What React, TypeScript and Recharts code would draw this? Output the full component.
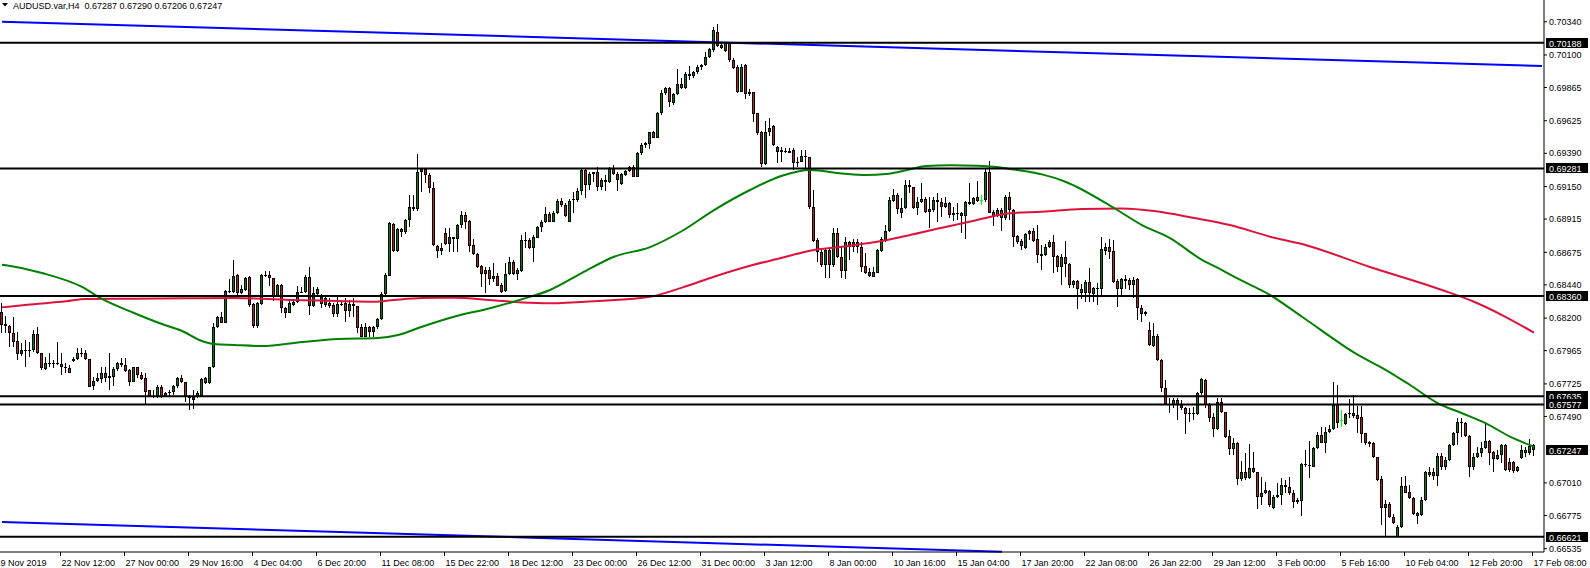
import { Bar, ComposedChart, Line, ReferenceLine, XAxis, YAxis } from "recharts";

// prices are kept in points (1 = 0.00001)
const ohlc: [number, number, number, number][] = [
  [68247,68307,68090,68150],[68158,68215,68090,68143],[68143,68150,67994,68090],[68090,68211,67994,68030],
  [68035,68102,67898,67939],[67939,68018,67927,67970],[67970,68042,67850,67968],[67968,68030,67922,67970],
  [67970,68114,67958,68083],[68083,68134,67941,67946],[67946,67946,67826,67837],[67835,67922,67826,67874],
  [67874,67946,67850,67872],[67872,67898,67837,67874],[67874,68030,67862,67870],[67869,67946,67789,67845],
  [67845,67874,67801,67837],[67837,67862,67801,67806],[67890,67917,67886,67907],[67903,67982,67898,67946],
  [67946,67987,67922,67944],[67946,67970,67898,67903],[67903,67903,67700,67705],[67710,67777,67681,67746],
  [67746,67801,67741,67765],[67758,67850,67729,67801],[67801,67850,67741,67770],[67770,67946,67681,67782],
  [67777,67850,67710,67833],[67833,67886,67821,67874],[67862,67910,67850,67878],[67862,67910,67813,67821],
  [67826,67831,67712,67741],[67741,67850,67736,67845],[67845,67850,67765,67792],[67792,67813,67753,67763],
  [67770,67801,67580,67669],[67681,67681,67633,67638],[67638,67681,67621,67636],[67633,67717,67621,67700],
  [67700,67717,67621,67633],[67633,67669,67633,67662],[67662,67681,67638,67669],[67669,67717,67645,67712],
  [67712,67777,67693,67770],[67770,67787,67729,67736],[67736,67736,67597,67633],[67638,67645,67537,67621],
  [67633,67681,67541,67609],[67662,67676,67621,67633],[67633,67765,67633,67758],[67765,67773,67722,67729],
  [67729,67850,67722,67845],[67845,68162,67840,68134],[68134,68218,68126,68211],[68211,68247,68162,68167],
  [68167,68403,68167,68396],[68391,68480,68384,68398],[68391,68620,68384,68504],[68511,68516,68367,68379],
  [68379,68439,68372,68408],[68403,68499,68396,68487],[68495,68504,68283,68295],[68302,68307,68126,68143],
  [68143,68319,68126,68312],[68302,68516,68295,68511],[68511,68542,68494,68509],[68511,68542,68432,68487],
  [68487,68492,68326,68362],[68362,68446,68355,68439],[68439,68446,68234,68271],[68271,68283,68198,68239],
  [68239,68335,68234,68307],[68295,68338,68290,68314],[68314,68434,68307,68386],[68386,68427,68379,68391],
  [68391,68511,68379,68499],[68499,68567,68222,68290],[68290,68427,68283,68379],[68374,68427,68360,68410],
  [68355,68374,68271,68299],[68295,68360,68283,68343],[68307,68343,68271,68290],[68295,68307,68210,68227],
  [68227,68355,68210,68299],[68304,68319,68290,68302],[68309,68343,68169,68254],[68254,68331,68210,68302],
  [68302,68343,68210,68290],[68290,68290,68090,68126],[68133,68157,68061,68066],[68066,68162,68061,68133],
  [68133,68145,68066,68102],[68102,68145,68066,68138],[68133,68203,68121,68193],[68193,68391,68186,68372],
  [68372,68523,68367,68511],[68506,68891,68504,68884],[68879,68889,68680,68687],[68687,68848,68680,68843],
  [68843,68848,68788,68819],[68819,68916,68807,68908],[68908,69089,68855,69000],[69000,69089,68973,68985],
  [68985,69385,68976,69253],[69253,69281,69108,69274],[69274,69281,69178,69233],[69233,69245,69101,69137],
  [69137,69186,68721,68728],[68723,68728,68631,68684],[68684,68740,68656,68709],[68812,68848,68728,68735],
  [68735,68848,68680,68783],[68783,68788,68680,68771],[68771,68879,68680,68872],[68872,68973,68848,68944],
  [68944,68969,68841,68896],[68904,68908,68680,68721],[68725,68771,68656,68663],[68663,68668,68559,68571],
  [68576,68583,68427,68516],[68516,68571,68379,68547],[68547,68571,68439,68480],[68480,68600,68463,68504],
  [68504,68528,68434,68434],[68439,68451,68379,68391],[68396,68595,68391,68516],[68516,68639,68511,68603],
  [68603,68619,68511,68518],[68518,68559,68475,68547],[68539,68799,68534,68763],[68763,68823,68703,68758],
  [68763,68780,68698,68703],[68703,68799,68607,68787],[68780,68864,68775,68855],[68855,68908,68823,68891],
  [68891,69000,68884,68949],[68949,68963,68891,68896],[68896,68975,68891,68956],[68956,69059,68949,69045],
  [69045,69064,69004,69016],[69016,69028,68932,68939],[68896,69059,68891,69047],[69052,69112,68956,69059],
  [69052,69136,69040,69117],[69117,69276,69088,69269],[69269,69281,69064,69160],[69160,69252,69124,69237],
  [69237,69257,69185,69252],[69252,69293,69120,69148],[69148,69209,69124,69197],[69197,69233,69120,69180],
  [69180,69293,69173,69276],[69276,69305,69233,69237],[69237,69257,69120,69197],[69168,69245,69160,69237],
  [69233,69269,69228,69262],[69262,69300,69257,69293],[69293,69305,69216,69221],[69221,69401,69216,69389],
  [69389,69461,69377,69449],[69449,69473,69425,69461],[69457,69546,69420,69541],[69546,69550,69497,69502],
  [69502,69690,69497,69678],[69678,69846,69666,69822],[69822,69871,69810,69863],[69863,69871,69726,69757],
  [69750,69822,69738,69818],[69818,69996,69810,69890],[69890,69936,69854,69858],[69858,69974,69854,69962],
  [69950,70020,69919,69962],[69950,69984,69936,69979],[69974,70027,69960,70015],[70015,70032,69991,70027],
  [70027,70118,70022,70082],[70082,70147,70075,70140],[70135,70299,70123,70280],[70268,70323,70159,70167],
  [70171,70183,70142,70152],[70128,70195,70118,70183],[70183,70188,70051,70063],[70063,70080,69998,70003],
  [70015,70027,69822,69834],[69834,70032,69830,70015],[70027,70032,69779,69815],[69815,69854,69803,69830],
  [69830,69834,69618,69673],[69678,69683,69521,69538],[69546,69550,69293,69312],[69312,69623,69305,69546],
  [69546,69647,69517,69574],[69586,69594,69442,69449],[69396,69442,69322,69432],[69414,69438,69330,69402],
  [69402,69426,69395,69410],[69410,69426,69390,69395],[69414,69426,69270,69323],[69323,69366,69294,69328],
  [69330,69414,69325,69373],[69371,69414,69282,69361],[69361,69366,68986,69000],[69000,69125,68752,68759],
  [68764,68776,68608,68680],[68680,68692,68572,68584],[68584,68704,68492,68692],[68692,68716,68492,68584],
  [68584,68848,68572,68812],[68812,68848,68632,68639],[68639,68721,68487,68543],[68543,68783,68480,68752],
  [68752,68759,68620,68711],[68711,68769,68680,68750],[68750,68769,68668,68716],[68716,68752,68535,68572],
  [68576,68668,68519,68528],[68535,68560,68499,68504],[68499,68572,68495,68535],[68528,68697,68523,68692],
  [68687,68783,68680,68769],[68764,68872,68752,68832],[68832,69072,68824,69053],[69046,69130,69041,69089],
  [69089,69106,68949,68986],[68957,69065,68921,68993],[68993,69197,68986,69161],[69161,69197,69106,69144],
  [69144,69149,68986,68993],[68993,69077,68945,69036],[69036,69173,69029,69060],[69060,69077,68957,68969],
  [68969,69077,68848,68988],[68981,69077,68969,69053],[69053,69101,68897,69036],[69036,69065,68933,69000],
  [69000,69077,68993,69034],[69034,69041,68921,68945],[68945,69005,68904,68961],[68961,69029,68909,68955],
  [68957,68969,68817,68940],[68940,69048,68769,69041],[69041,69173,69017,69024],[69024,69077,69017,69065],
  [69072,69190,69041,69048],[69053,69089,69017,69053],[69053,69282,69041,69258],[69258,69337,68957,68961],
  [68969,68981,68865,68933],[68940,68993,68928,68981],[68981,68993,68832,68921],[68921,69089,68909,69077],
  [69077,69113,68909,68981],[68981,68986,68716,68788],[68793,68800,68735,68752],[68759,68769,68692,68721],
  [68704,68817,68697,68807],[68807,68836,68764,68832],[68832,68848,68752,68759],[68769,68872,68600,68656],
  [68663,68728,68547,68651],[68655,68732,68651,68716],[68716,68764,68704,68747],[68747,68800,68523,68643],
  [68651,68655,68535,68566],[68566,68660,68439,68639],[68639,68756,68499,68588],[68588,68595,68420,68439],
  [68439,68475,68415,68468],[68468,68475,68265,68407],[68383,68444,68338,68407],[68379,68475,68314,68458],
  [68463,68564,68318,68379],[68371,68427,68318,68415],[68407,68451,68294,68420],[68410,68783,68367,68699],
  [68687,68740,68655,68711],[68711,68771,68626,68679],[68684,68764,68451,68463],[68468,68482,68282,68407],
  [68407,68487,68367,68482],[68470,68511,68407,68482],[68475,68492,68403,68439],[68439,68499,68347,68475],
  [68482,68487,68186,68270],[68270,68294,68169,68227],[68227,68251,68217,68241],[68111,68174,68001,68005],
  [68001,68162,67993,68070],[68070,68085,67890,67897],[67897,67904,67669,67693],[67693,67753,67572,67577],
  [67577,67620,67512,67580],[67572,67620,67548,67608],[67608,67625,67464,67572],[67572,67608,67536,67548],
  [67553,67560,67360,67505],[67505,67548,67452,67512],[67512,67560,67464,67510],[67505,67669,67500,67657],
  [67657,67770,67644,67760],[67753,67760,67548,67572],[67572,67584,67452,67481],[67488,67512,67339,67399],
  [67399,67625,67392,67591],[67591,67620,67512,67519],[67519,67524,67336,67344],[67348,67392,67211,67254],
  [67254,67332,67211,67295],[67295,67307,66995,67035],[67035,67168,67023,67086],[67086,67223,67031,67043],
  [67043,67288,67038,67115],[67115,67230,67079,67086],[67086,67091,66821,66910],[66910,67055,66850,66934],
  [66934,67019,66927,66959],[66954,66959,66838,66850],[66826,66922,66821,66910],[66910,67007,66903,66922],
  [66922,67043,66850,66995],[66995,67031,66934,66978],[66978,67055,66922,66934],[66934,66959,66826,66874],
  [66869,66898,66855,66886],[66882,67151,66773,67144],[67144,67247,67127,67139],[67139,67312,67043,67141],
  [67127,67267,67122,67259],[67259,67380,67252,67356],[67356,67411,67295,67300],[67300,67416,67223,67375],
  [67375,67428,67368,67397],[67397,67736,67392,67572],[67572,67717,67404,67440],[67464,67536,67411,67464],
  [67435,67517,67428,67507],[67507,67613,67476,67517],[67517,67644,67476,67493],[67500,67565,67373,67471],
  [67483,67565,67295,67363],[67368,67373,67283,67295],[67308,67315,67271,67291],[67300,67308,67187,67194],
  [67194,67199,67026,67031],[67036,67060,66706,66826],[66826,66886,66622,66855],[66855,66874,66754,66761],
  [66766,66785,66713,66723],[66622,66706,66621,66689],[66689,67055,66682,66987],[66987,67060,66934,66939],
  [66946,66995,66891,66898],[66903,66910,66778,66785],[66795,66802,66711,66773],[66778,66906,66771,66886],
  [66886,67096,66882,67086],[67086,67127,67050,67067],[67086,67115,67031,67060],[67060,67223,66987,67204],
  [67204,67223,67103,67127],[67127,67199,67103,67175],[67175,67291,67168,67283],[67283,67380,67276,67368],
  [67368,67476,67283,67452],[67440,67476,67344,67447],[67440,67452,67344,67348],[67348,67356,67055,67122],
  [67122,67223,67103,67194],[67194,67267,67187,67228],[67228,67308,67194,67259],[67259,67440,67252,67315],
  [67315,67320,67139,67223],[67235,67242,67091,67180],[67180,67247,67175,67211],[67211,67291,67151,67283],
  [67283,67291,67098,67103],[67158,67187,67091,67103],[67158,67168,67079,67096],[67096,67132,67091,67127],
  [67187,67283,67180,67247],[67247,67267,67194,67223],[67223,67324,67211,67276],[67287,67290,67206,67247],
];

// moving averages, read at a subset of bars
const fastMa: [number, number][] = [
  [0,68585],[1,68581],[10,68526],[20,68425],[25,68338],[33,68237],[40,68157],[45,68107],[50,68035],[53,68013],
  [58,68006],[65,67998],[75,68027],[84,68049],[94,68056],[99,68078],[105,68138],[113,68210],[122,68271],
  [130,68336],[137,68403],[145,68526],[153,68643],[162,68713],[170,68829],[178,68980],[187,69125],
  [195,69228],[202,69269],[210,69245],[216,69233],[221,69240],[227,69274],[231,69298],[237,69303],
  [244,69300],[248,69293],[252,69277],[257,69255],[260,69238],[266,69183],[278,68995],[285,68872],
  [292,68778],[300,68620],[305,68547],[308,68499],[317,68367],[325,68210],[339,67934],[346,67825],
  [352,67717],[359,67585],[365,67513],[371,67440],[377,67344],[383,67271],
];
const slowMa: [number, number][] = [
  [0,68278],[1,68281],[8,68300],[16,68321],[21,68338],[33,68340],[46,68343],[58,68345],[72,68331],[84,68324],
  [93,68318],[98,68331],[105,68345],[113,68347],[122,68331],[130,68313],[137,68307],[149,68324],
  [162,68354],[170,68420],[178,68499],[187,68578],[195,68636],[202,68687],[210,68715],[218,68747],
  [227,68800],[235,68853],[243,68903],[252,68957],[260,68968],[270,68988],[280,68991],[288,68973],
  [298,68923],[307,68872],[317,68788],[325,68735],[342,68569],[360,68403],[368,68318],[375,68222],
  [383,68095],
];

const levels = [70188, 69281, 68360, 67635, 67577, 66621];
const lastPrice = 67247;
const yTicks = [70340, 70100, 69865, 69625, 69390, 69150, 68915, 68675, 68440, 68200, 67965, 67725, 67490, 67010, 66775, 66535];
const trendTop = [[0, 70340], [385, 70020]];
const trendBottom = [[0, 66728], [250, 66513]];

const firstLabel = "19 Nov 2019";
const xLabels = [
  "22 Nov 12:00", "27 Nov 00:00", "29 Nov 16:00", "4 Dec 04:00", "6 Dec 20:00", "11 Dec 08:00",
  "15 Dec 22:00", "18 Dec 12:00", "23 Dec 00:00", "26 Dec 12:00", "31 Dec 00:00", "3 Jan 12:00",
  "8 Jan 00:00", "10 Jan 16:00", "15 Jan 04:00", "17 Jan 20:00", "22 Jan 08:00", "26 Jan 22:00",
  "29 Jan 12:00", "3 Feb 00:00", "5 Feb 16:00", "10 Feb 04:00", "12 Feb 20:00", "17 Feb 08:00",
];
const header = "AUDUSD.var,H4  0.67287 0.67290 0.67206 0.67247";

const W = 1590;
const H = 568;
const SLOTS = 386;
const PLOT_BOTTOM = 552;
const FONT = "'Liberation Sans', Arial, sans-serif";
const BULL = "#008000";
const BEAR = "#b22222";

const fmt = (v: number) => (v / 100000).toFixed(5);

const fastAt = new Map(fastMa);
const slowAt = new Map(slowMa);
const tickIdx = xLabels.map((_, k) => 15 + k * 16);

const rows = Array.from({ length: SLOTS }, (_, i) => {
  const k = ohlc[i];
  return {
    i,
    range: k ? [k[2], k[1]] : undefined,
    o: k?.[0],
    h: k?.[1],
    l: k?.[2],
    c: k?.[3],
    fast: fastAt.get(i) ?? null,
    slow: slowAt.get(i) ?? null,
  };
});

function Candle(props: any) {
  const { x, y, width, height, payload } = props;
  if (!payload || payload.o == null) return null;
  const { o, h, l, c } = payload;
  const top = Math.min(y, y + height);
  const span = Math.abs(height);
  const py = (p: number) => (h === l ? top : top + ((h - p) / (h - l)) * span);
  const cx = Math.round(x + width / 2) - 0.5;
  const yHi = Math.round(py(h));
  const yLo = Math.round(py(l));
  const y0 = Math.round(py(Math.max(o, c)));
  const y1 = Math.round(py(Math.min(o, c)));
  if (o === c) {
    return (
      <g>
        <line x1={cx} x2={cx} y1={yHi} y2={yLo} stroke="#00ff00" />
        <line x1={cx - 1.5} x2={cx + 1.5} y1={y0 + 0.5} y2={y0 + 0.5} stroke="#00ff00" />
      </g>
    );
  }
  return (
    <g>
      <line x1={cx} x2={cx} y1={yHi} y2={yLo} stroke="#000" />
      {y1 - y0 <= 1 ? (
        <line x1={cx - 1.5} x2={cx + 1.5} y1={y0 + 0.5} y2={y0 + 0.5} stroke="#000" />
      ) : (
        <rect x={cx - 1} y={y0 + 0.5} width={2} height={y1 - y0 - 1} fill={c > o ? BULL : BEAR} stroke="#000" strokeWidth={1} />
      )}
    </g>
  );
}

function XTick(props: any) {
  const { x, payload } = props;
  const k = (payload.value - 15) / 16;
  const tx = Math.round(x) - 1.5;
  return (
    <g>
      <line x1={tx} x2={tx} y1={PLOT_BOTTOM} y2={PLOT_BOTTOM + 4} stroke="#000" />
      <text x={tx + 1} y={PLOT_BOTTOM + 14} fontSize={9} fontFamily={FONT} fill="#000" textAnchor="start">
        {xLabels[k]}
      </text>
    </g>
  );
}

function priceBox(value: number) {
  return (p: any) => {
    const vb = p.viewBox || {};
    const yy = Math.round(vb.y ?? 0);
    const bx = (vb.x ?? 0) + (vb.width ?? 0) + 2;
    return (
      <g>
        <rect x={bx} y={yy - 5} width={42} height={10} fill="#000" />
        <text x={bx + 3} y={yy + 3.5} fontSize={9} fontFamily={FONT} fill="#fff">
          {fmt(value)}
        </text>
      </g>
    );
  };
}

export default function App() {
  return (
    <div style={{ position: "relative", width: W, height: H, background: "#fff" }}>
      <style>{"body{margin:0}"}</style>
      <ComposedChart width={W} height={H} data={rows} margin={{ top: 0, right: 0, bottom: 0, left: 0 }} barCategoryGap={0} barGap={0}>
        <XAxis
          dataKey="i"
          type="category"
          ticks={tickIdx}
          interval={0}
          height={16}
          tickLine={false}
          axisLine={{ stroke: "#000" }}
          tick={<XTick />}
        />
        <YAxis
          orientation="right"
          type="number"
          domain={[66511, 70497]}
          allowDataOverflow
          ticks={yTicks}
          interval={0}
          width={46}
          tickSize={3}
          tickMargin={2}
          axisLine={{ stroke: "#000" }}
          tickLine={{ stroke: "#000" }}
          tick={{ fill: "#000", fontSize: 9, fontFamily: FONT }}
          tickFormatter={fmt}
        />
        <Bar dataKey="range" shape={<Candle />} isAnimationActive={false} />
        <Line dataKey="slow" type="monotone" stroke="#dc143c" strokeWidth={2} dot={false} activeDot={false} connectNulls isAnimationActive={false} />
        <Line dataKey="fast" type="monotone" stroke="#008000" strokeWidth={2} dot={false} activeDot={false} connectNulls isAnimationActive={false} />
        <ReferenceLine
          segment={[{ x: trendTop[0][0], y: trendTop[0][1] }, { x: trendTop[1][0], y: trendTop[1][1] }]}
          stroke="#0000ff"
          strokeWidth={2}
          ifOverflow="visible"
        />
        <ReferenceLine
          segment={[{ x: trendBottom[0][0], y: trendBottom[0][1] }, { x: trendBottom[1][0], y: trendBottom[1][1] }]}
          stroke="#0000ff"
          strokeWidth={2}
          ifOverflow="visible"
        />
        {levels.map((v) => (
          <ReferenceLine key={v} y={v} stroke="#000" strokeWidth={2} ifOverflow="visible" label={priceBox(v)} />
        ))}
        <ReferenceLine y={lastPrice} stroke="#000" strokeOpacity={0} ifOverflow="visible" label={priceBox(lastPrice)} />
      </ComposedChart>
      <svg width={W} height={H} style={{ position: "absolute", left: 0, top: 0, pointerEvents: "none" }}>
        <polygon points="2,3 8,3 5,6.5" fill="#000" />
        <text x={13} y={8.5} fontSize={9} fontFamily={FONT} fill="#000" xmlSpace="preserve" style={{ whiteSpace: "pre" }}>
          {header}
        </text>
        <text x={-4.5} y={PLOT_BOTTOM + 14} fontSize={9} fontFamily={FONT} fill="#000">
          {firstLabel}
        </text>
      </svg>
    </div>
  );
}
